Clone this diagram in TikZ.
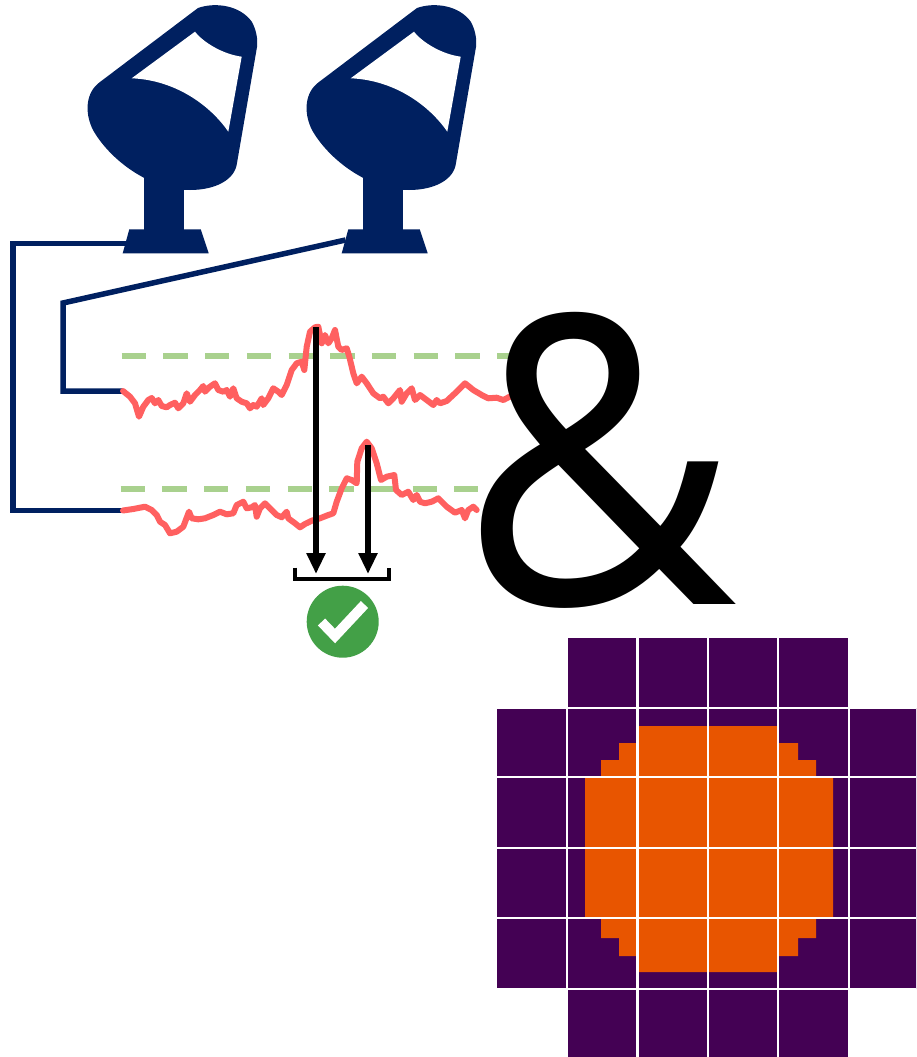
\documentclass[tikz,border=0pt]{standalone}
\usepackage{fontspec}
\newfontfamily\ampfont{Open Sans}
\usetikzlibrary{arrows.meta}
\definecolor{navy}{HTML}{002060}
\definecolor{sigred}{HTML}{FF6060}
\definecolor{limitgreen}{HTML}{A9D18E}
\definecolor{okgreen}{HTML}{43A047}
\definecolor{pixpurple}{HTML}{440154}
\definecolor{pixorange}{HTML}{E85500}
\tikzset{
  dish/.pic={
    % bowl, feed arm, cap and strut as one dark silhouette
    \fill[navy] (100,82) -- (198,8)
      .. controls (215,2) and (240,5) .. (252,22)
      .. controls (256,30) and (258,38) .. (257,47)
      -- (237,163)
      .. controls (235,180) and (215,190) .. (190,190)
      .. controls (150,190) and (110,160) .. (93,130)
      .. controls (84,112) and (86,92) .. (100,82) -- cycle;
    % opening between arm, cap, strut and rim
    \fill[white] (131.7,78.3) -- (195,31.7)
      .. controls (203,42) and (222,54) .. (241.7,56.7)
      -- (228.3,131.7)
      .. controls (210,105) and (175,80) .. (131.7,78.3) -- cycle;
    % pedestal and foot
    \fill[navy] (144.3,170) rectangle (184.3,230);
    \fill[navy] (129.3,229.3) -- (200.7,229.3) -- (208.7,253.3) -- (122.7,253.3) -- cycle;
    \coordinate (-wl) at (125.5,243.5);
    \coordinate (-wu) at (126.5,240);
  },
  cable/.style={navy, line width=5.5pt, line join=miter},
  limit/.style={limitgreen, line width=5.6pt, dash pattern=on 24.3pt off 17.4pt},
  signal/.style={sigred, line width=6pt, line join=round, line cap=round},
  delay/.style={black, line width=5.7pt, -{Triangle[width=18pt,length=21pt]}},
  bracket/.style={black, line width=4.3pt},
  gridline/.style={white, line width=2.3pt},
}
\begin{document}
\begin{tikzpicture}[x=1pt,y=-1pt]
\useasboundingbox[fill=white] (0,0) rectangle (916,1057);

% two antennas
\pic (dA) at (0,0) {dish};
\pic (dB) at (219,0) {dish};

% signal start points and cabling
\coordinate (s1) at (123,391);
\coordinate (s2) at (123,510.5);
\draw[cable] (dA-wl) -- ++(-112.5,0) |- (s2);
\draw[cable] (dB-wu) -- (63,303) |- (s1);

% detection thresholds
\draw[limit] (121.7,356) -- (512,356);
\draw[limit] (120.7,489) -- (478.3,489);

% recorded time series
\draw[signal] (s1) -- (130,396.7) -- (135,403.3) -- (139,416.7) -- (143.3,406.7) -- (148.3,400) -- (151.7,398) -- (155,403.3) -- (158.3,400) -- (161.7,406) -- (166.7,407.3) -- (170,405) -- (175,402.7) -- (178.3,408.3) -- (183.3,403.3) -- (186.7,393.3) -- (190,401.7) -- (195,395) -- (200,390) -- (203.3,386) -- (205,391.7) -- (210,386.7) -- (215,383.3) -- (218.3,390) -- (223.3,391.7) -- (226.7,390) -- (230,396.7) -- (233.3,388.3) -- (236.7,398.3) -- (241.7,401.7) -- (246.7,403.3) -- (250,408.3) -- (253.3,405) -- (256.7,406.7) -- (261.7,398.3) -- (263.3,405) -- (268.3,398.3) -- (273.3,388.3) -- (278.3,391.7) -- (281.7,395) -- (286.7,385) -- (291.7,370) -- (296.7,363.3) -- (301.7,361.7) -- (304.3,370) -- (306.7,346.7) -- (310,331.7) -- (315,327.3) -- (318.3,326.7) -- (321.7,343.3) -- (325,335) -- (328.3,343.3) -- (331.7,338.3) -- (335,330) -- (338.3,346.7) -- (341.7,350) -- (346.7,348.3) -- (349.3,356.7) -- (353.3,373.3) -- (356.7,383.3) -- (361.7,376.7) -- (366.7,383.3) -- (373.3,393.3) -- (380,398.3) -- (383.3,396.7) -- (388.3,403.3) -- (393.3,398.3) -- (400,390) -- (401.7,401.7) -- (406.7,393.3) -- (411.7,388.3) -- (415,400) -- (420,395) -- (426.7,400) -- (433.3,405) -- (436.7,400) -- (440,403.3) -- (446.7,401) -- (455,393.3) -- (465,383.3) -- (473.3,390) -- (481.7,395) -- (488.3,398.3) -- (496.7,397.7) -- (503.3,400) -- (511.7,395.7);
\draw[signal] (s2) -- (133.3,509) -- (145,506.7) -- (151.7,510) -- (156.7,515) -- (160,521.7) -- (165,525) -- (170,533.3) -- (176.7,531.7) -- (183.3,526.7) -- (189,511.7) -- (191.7,518.3) -- (198.3,519.3) -- (205,518.3) -- (213.3,515) -- (220,511.7) -- (226.7,514.3) -- (233.3,513.3) -- (236.7,505) -- (243.3,501.7) -- (246.7,508.3) -- (251.7,507.3) -- (255,505) -- (256.7,516.7) -- (260,508.3) -- (265,503.3) -- (270,508.3) -- (276.7,515) -- (281.7,517.3) -- (286.7,511.7) -- (288.3,518.3) -- (295,523.3) -- (300,527.3) -- (305,524) -- (311.7,520.7) -- (320,518.3) -- (328.3,515) -- (333.3,513.3) -- (336.7,501.7) -- (341.7,488.3) -- (346.7,478.3) -- (351.7,480) -- (356.7,483.3) -- (357.3,461.7) -- (361.7,448.3) -- (366.7,441.7) -- (371.7,448.3) -- (376.7,463.3) -- (381,480) -- (386.7,476.7) -- (394.3,475) -- (396,490) -- (401.7,495) -- (408.3,491.7) -- (413.3,500) -- (416.7,495) -- (420,501.7) -- (425,503.3) -- (431.7,501.7) -- (438.3,498.3) -- (446.7,506.7) -- (455,512.7) -- (461.7,510) -- (465,518.3) -- (468.3,510) -- (473.3,506.7) -- (476.7,510);

% arrival times brought together
\coordinate (p1) at (316,327);
\coordinate (p2) at (368,445);
\coordinate (e1) at (316,574);
\coordinate (e2) at (368,574);
\draw[delay] (p1) -- (e1);
\draw[delay] (p2) -- (e2);
\coordinate (bl) at (295,567.5);
\coordinate (br) at (389.3,567.5);
\draw[bracket] (bl) -- ++(0,11.5) -| (br);

% coincidence accepted
\node[circle, fill=okgreen, minimum size=72pt, inner sep=0pt] (ok) at (342.7,621.7) {};
\draw[white, line width=10pt, line join=miter, line cap=butt]
  ([shift={(-21.2,0.3)}]ok.center) -- ([shift={(-7.7,14.3)}]ok.center) -- ([shift={(21.8,-17.2)}]ok.center);

% ampersand
\node[inner sep=0pt, anchor=base, font=\ampfont\fontsize{403}{403}\selectfont] (amp) at (599,604) {\scalebox{0.94}[1]{\&}};

% pixel map: outer ring of cells, disc, and the cell grid
\fill[pixpurple] (567,638) -- (849,638) -- (849,708) -- (916,708) -- (916,989) -- (849,989) -- (849,1057) -- (567,1057) -- (567,989) -- (497,989) -- (497,708) -- (567,708) -- cycle;
\fill[pixorange] (638,726) -- (777,726) -- (777,743) -- (798,743) -- (798,760) -- (816,760) -- (816,777) -- (833,777) -- (833,917) -- (816,917) -- (816,938) -- (798,938) -- (798,956) -- (777,956) -- (777,972) -- (638,972) -- (638,956) -- (619,956) -- (619,938) -- (601,938) -- (601,917) -- (585,917) -- (585,777) -- (601,777) -- (601,760) -- (619,760) -- (619,743) -- (638,743) -- cycle;
\foreach \gx in {567,637.5,708,778,849} \draw[gridline] (\gx,638) -- (\gx,1057);
\foreach \gy in {708,777,848,918,989} \draw[gridline] (497,\gy) -- (916,\gy);
\end{tikzpicture}
\end{document}
